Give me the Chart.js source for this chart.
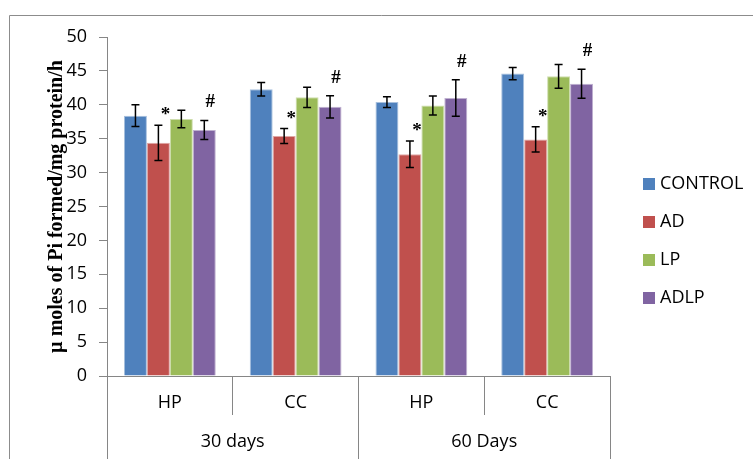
<!DOCTYPE html>
<html>
<head>
<meta charset="utf-8">
<script src="https://cdn.jsdelivr.net/npm/chart.js@4.4.0/dist/chart.umd.min.js"></script>
<style>
  html, body { margin: 0; padding: 0; background: #fff; }
  #wrap { width: 753px; height: 459px; }
</style>
</head>
<body>
<div id="wrap"><canvas id="enzymeChart" width="753" height="459"></canvas></div>
<script>
/* DATA */
const subLabels = ["HP", "CC", "HP", "CC"];
const groupLabels = ["30 days", "60 Days"];
const seriesNames = ["CONTROL", "AD", "LP", "ADLP"];
const seriesColors = ["#4F81BD", "#C0504D", "#9BBB59", "#8064A2"];
const seriesEdges = ["#A7C0DE", "#DFA8A6", "#CDDDAC", "#BFB1D0"];

const controlValues = [38.4, 42.3, 40.4, 44.6];
const adValues = [34.4, 35.4, 32.7, 34.9];
const lpValues = [37.9, 41.1, 39.9, 44.2];
const adlpValues = [36.3, 39.7, 41.0, 43.1];

const controlErr = [1.6, 1.0, 0.8, 0.9];
const adErr = [2.6, 1.1, 1.95, 1.85];
const lpErr = [1.3, 1.5, 1.4, 1.75];
const adlpErr = [1.4, 1.65, 2.7, 2.15];

// significance marks: which series gets which symbol
const markSeries = [1, 3];
const markSymbols = ["*", "#"];

const yTicks = { min: 0, max: 50, step: 5 };

const seriesValues = [controlValues, adValues, lpValues, adlpValues];
const seriesErrors = [controlErr, adErr, lpErr, adlpErr];

const axisGray = "#868686";
const tickFont = { family: "'Open Sans', sans-serif", size: 18 };

/* PLUGINS */
// outer frame of the figure
const framePlugin = {
  id: "frame",
  beforeDraw(chart) {
    const ctx = chart.ctx;
    ctx.save();
    ctx.strokeStyle = "#8c8c8c";
    ctx.lineWidth = 1;
    ctx.beginPath();
    ctx.moveTo(9.5, chart.height);
    ctx.lineTo(9.5, 15.5);
    ctx.lineTo(chart.width, 15.5);
    ctx.stroke();
    ctx.restore();
  },
};

// error bars drawn on each bar
const errorBarPlugin = {
  id: "errorBars",
  afterDatasetsDraw(chart) {
    const ctx = chart.ctx;
    const yScale = chart.scales.y;
    ctx.save();
    ctx.strokeStyle = "#000";
    ctx.lineWidth = 1.5;
    chart.data.datasets.forEach((ds, i) => {
      const meta = chart.getDatasetMeta(i);
      meta.data.forEach((bar, j) => {
        const v = ds.data[j];
        const e = seriesErrors[i][j];
        const top = yScale.getPixelForValue(v + e);
        const bottom = yScale.getPixelForValue(v - e);
        ctx.beginPath();
        ctx.moveTo(bar.x, top);
        ctx.lineTo(bar.x, bottom);
        ctx.moveTo(bar.x - 4, top);
        ctx.lineTo(bar.x + 4, top);
        ctx.moveTo(bar.x - 4, bottom);
        ctx.lineTo(bar.x + 4, bottom);
        ctx.stroke();
      });
    });
    ctx.restore();
  },
};

// "*" and "#" above the error bars
const marksPlugin = {
  id: "marks",
  afterDatasetsDraw(chart) {
    const ctx = chart.ctx;
    const yScale = chart.scales.y;
    ctx.save();
    ctx.fillStyle = "#000";
    ctx.font = "bold 19px 'Liberation Serif', serif";
    ctx.textAlign = "center";
    ctx.textBaseline = "alphabetic";
    markSeries.forEach((s, k) => {
      const meta = chart.getDatasetMeta(s);
      const sym = markSymbols[k];
      meta.data.forEach((bar, j) => {
        const top = yScale.getPixelForValue(seriesValues[s][j] + seriesErrors[s][j]);
        if (sym === "*") {
          ctx.fillText(sym, bar.x + 7, top - 5);
        } else {
          ctx.fillText(sym, bar.x + 6, top - 13);
        }
      });
    });
    ctx.restore();
  },
};

// legend on the right
const legendPlugin = {
  id: "sideLegend",
  afterDraw(chart) {
    const ctx = chart.ctx;
    const x0 = chart.chartArea.right + 33;
    ctx.save();
    ctx.font = "18px 'Open Sans', sans-serif";
    ctx.textBaseline = "middle";
    ctx.textAlign = "left";
    seriesNames.forEach((name, i) => {
      const cy = 184 + i * 38;
      ctx.fillStyle = seriesColors[i];
      ctx.fillRect(x0, cy - 6, 12, 12);
      ctx.fillStyle = "#000";
      ctx.fillText(name, x0 + 17, cy);
    });
    ctx.restore();
  },
};

/* CHART */
new Chart("enzymeChart", {
  type: "bar",
  data: {
    labels: subLabels,
    datasets: seriesNames.map((name, i) => ({
      label: name,
      data: seriesValues[i],
      backgroundColor: seriesColors[i],
      borderColor: seriesEdges[i],
      borderWidth: 1,
      categoryPercentage: 0.73,
      barPercentage: 1,
    })),
  },
  options: {
    responsive: false,
    animation: false,
    devicePixelRatio: 1,
    layout: { padding: { left: 0, top: 37, right: 143, bottom: 0 } },
    plugins: {
      legend: { display: false },
      tooltip: { enabled: false },
    },
    scales: {
      x: {
        type: "category",
        position: "bottom",
        weight: 0,
        offset: true,
        grid: { drawOnChartArea: false, offset: true, tickLength: 39, color: axisGray },
        border: { color: axisGray },
        ticks: { padding: -23, font: tickFont, color: "#000" },
        afterFit: (s) => { s.height = 39; },
      },
      x2: {
        type: "category",
        position: "bottom",
        weight: 1,
        labels: groupLabels,
        offset: true,
        grid: { drawOnChartArea: false, offset: true, tickLength: 44, color: axisGray },
        border: { display: false },
        ticks: { padding: -28, font: tickFont, color: "#000" },
        afterFit: (s) => { s.height = 44; },
      },
      y: {
        min: yTicks.min,
        max: yTicks.max,
        ticks: { stepSize: yTicks.step, padding: 12, font: tickFont, color: "#000" },
        grid: { drawOnChartArea: false, tickLength: 8, color: axisGray },
        border: { color: axisGray },
        title: {
          display: true,
          text: "µ moles of Pi formed/mg protein/h",
          color: "#000",
          font: { family: "'Liberation Serif', serif", weight: "bold", size: 20 },
          padding: { top: 45, bottom: 0 },
        },
        afterFit: (s) => { s.width = 107; },
      },
    },
  },
  plugins: [framePlugin, errorBarPlugin, marksPlugin, legendPlugin],
});
</script>
</body>
</html>
